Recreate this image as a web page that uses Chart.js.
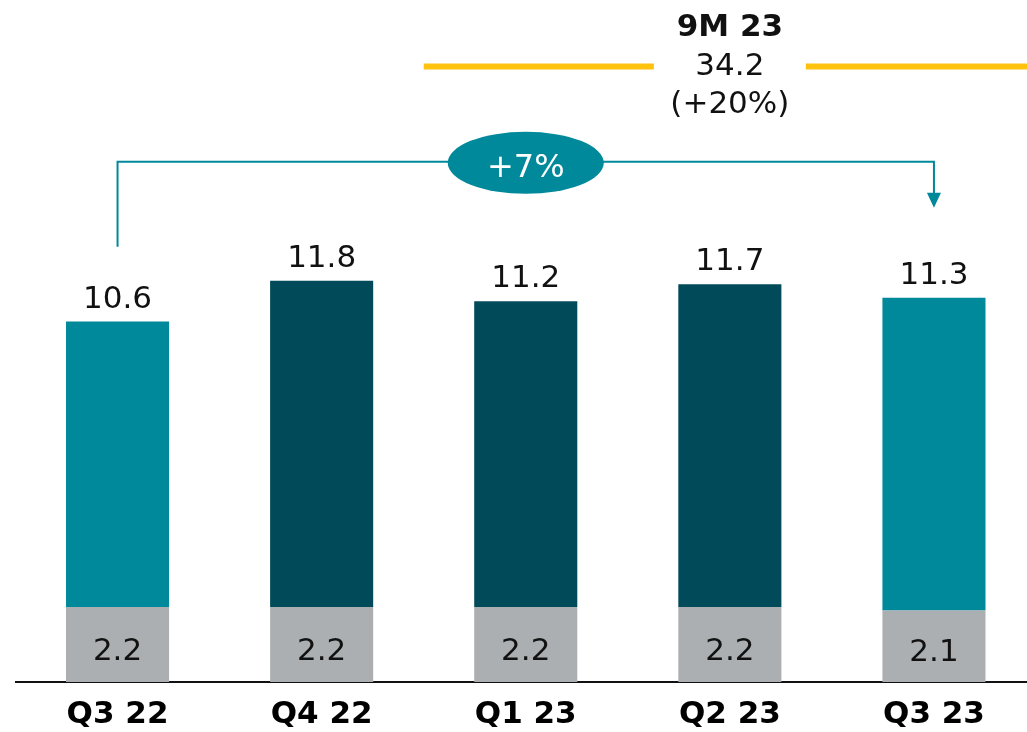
<!DOCTYPE html>
<html>
<head>
<meta charset="utf-8">
<script src="https://cdn.jsdelivr.net/npm/chart.js@4"></script>
<style>
  html, body { margin: 0; padding: 0; background: #fff; overflow: hidden; }
  #wrap { width: 1027px; height: 732px; overflow: hidden; }
</style>
</head>
<body>
<div id="wrap"><canvas id="chart" width="1036" height="732"></canvas></div>
<script>
// Quarterly data
const quarters = ["Q3 22", "Q4 22", "Q1 23", "Q2 23", "Q3 23"];
const baseValues = [2.2, 2.2, 2.2, 2.2, 2.1];
const upperValues = [8.4, 9.6, 9.0, 9.5, 9.2];
const totalLabels = ["10.6", "11.8", "11.2", "11.7", "11.3"];
const upperColors = ["#00899A", "#004A59", "#004A59", "#004A59", "#00899A"];

// Annotations
const growthLabel = "+7%";
const periodTitle = "9M 23";
const periodValue = "34.2";
const periodChange = "(+20%)";

const FONT = "'DejaVu Sans', Verdana, sans-serif";
const TEAL = "#00899A";
const YELLOW = "#FFC20E";

// value labels, bracket and 9M summary
const annotationsPlugin = {
    id: "annotations",
    afterDatasetsDraw(chart) {
        const ctx = chart.ctx;
        const xs = chart.scales.x;
        const ys = chart.scales.y;
        ctx.save();
        ctx.textAlign = "center";
        ctx.textBaseline = "alphabetic";
        ctx.font = "31px " + FONT;
        ctx.fillStyle = "#111";

        chart.getDatasetMeta(0).data.forEach((bar, i) => {
            ctx.fillText(baseValues[i].toFixed(1), bar.x, (bar.y + bar.base) / 2 + 15);
        });
        chart.getDatasetMeta(1).data.forEach((bar, i) => {
            ctx.fillText(totalLabels[i], bar.x, bar.y - 14);
        });

        // +7% bracket from first to last quarter
        const x0 = xs.getPixelForValue(0);
        const x4 = xs.getPixelForValue(4);
        const yTop = ys.getPixelForValue(15.3);
        const yStart = ys.getPixelForValue(12.8);
        const yTip = ys.getPixelForValue(13.95);
        ctx.strokeStyle = TEAL;
        ctx.lineWidth = 2;
        ctx.beginPath();
        ctx.moveTo(x0, yStart);
        ctx.lineTo(x0, yTop);
        ctx.lineTo(x4, yTop);
        ctx.lineTo(x4, yTip - 14);
        ctx.stroke();
        ctx.fillStyle = TEAL;
        ctx.beginPath();
        ctx.moveTo(x4 - 7, yTip - 15);
        ctx.lineTo(x4 + 7, yTip - 15);
        ctx.lineTo(x4, yTip);
        ctx.closePath();
        ctx.fill();

        const xe = xs.getPixelForValue(2);
        ctx.beginPath();
        ctx.ellipse(xe, yTop + 1, 78, 31, 0, 0, Math.PI * 2);
        ctx.fill();
        ctx.fillStyle = "#fff";
        ctx.font = "32px " + FONT;
        ctx.fillText(growthLabel, xe, yTop + 15);

        // 9M 23 line
        const yLine = ys.getPixelForValue(18.1);
        const xStart = (xs.getPixelForValue(1) + xs.getPixelForValue(2)) / 2;
        const xc = xs.getPixelForValue(3);
        ctx.strokeStyle = YELLOW;
        ctx.lineWidth = 6;
        ctx.beginPath();
        ctx.moveTo(xStart, yLine);
        ctx.lineTo(xc - 76, yLine);
        ctx.moveTo(xc + 76, yLine);
        ctx.lineTo(chart.width, yLine);
        ctx.stroke();

        ctx.fillStyle = "#111";
        ctx.font = "bold 31px " + FONT;
        ctx.fillText(periodTitle, xc, yLine - 31);
        ctx.font = "31px " + FONT;
        ctx.fillText(periodValue, xc, yLine + 8);
        ctx.fillText(periodChange, xc, yLine + 46);
        ctx.restore();
    },
};

const ctx = document.getElementById("chart").getContext("2d");
const chart = new Chart(ctx, {
    type: "bar",
    data: {
        labels: quarters,
        datasets: [
            {
                data: baseValues,
                backgroundColor: "#ABAFB1",
                categoryPercentage: 1,
                barPercentage: 0.505,
            },
            {
                data: upperValues,
                backgroundColor: upperColors,
                categoryPercentage: 1,
                barPercentage: 0.505,
            },
        ],
    },
    options: {
        responsive: false,
        animation: false,
        layout: { padding: { left: 15.5, top: 2, right: 0, bottom: 0 } },
        plugins: {
            legend: { display: false },
            tooltip: { enabled: false },
        },
        scales: {
            x: {
                stacked: true,
                grid: { display: false, drawTicks: true, tickLength: 16 },
                border: { display: true, color: "#111", width: 2 },
                ticks: {
                    color: "#000",
                    padding: 0,
                    font: { family: FONT, size: 31, weight: "bold", lineHeight: 1.1 },
                },
            },
            y: {
                stacked: true,
                display: false,
                min: 0,
                max: 20,
            },
        },
    },
    plugins: [annotationsPlugin],
});
</script>
</body>
</html>
